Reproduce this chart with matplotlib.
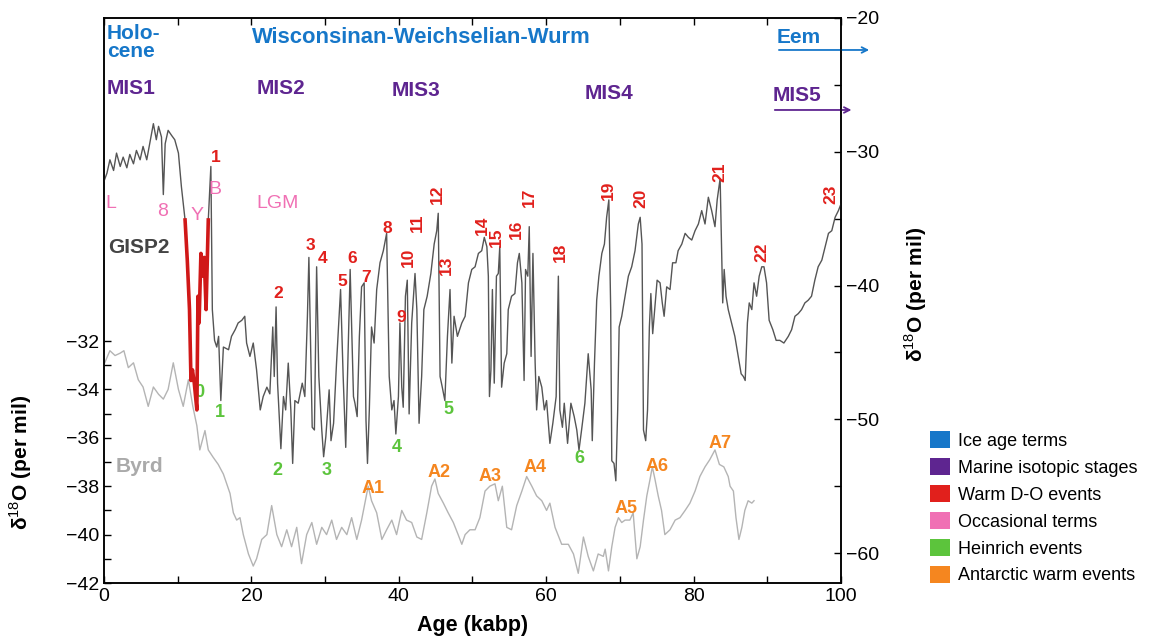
import numpy as np
import matplotlib.pyplot as plt
from matplotlib.patches import Patch

plt.rcParams['font.family'] = ['Liberation Sans', 'DejaVu Sans']
plt.rcParams['mathtext.fontset'] = 'custom'
plt.rcParams['mathtext.rm'] = 'Liberation Sans'
plt.rcParams['mathtext.bf'] = 'Liberation Sans:bold'

# GISP2 record (right axis)
gisp2_age = [0.0, 0.4, 0.8, 1.3, 1.7, 2.2, 2.6, 3.1, 3.5, 4.0, 4.4, 4.9, 5.3, 5.8, 6.2, 6.7, 7.1, 7.4, 7.8, 8.05,
             8.3, 8.7, 9.2, 9.6, 10.1, 10.5, 11.0, 11.3, 11.6, 11.8, 12.0, 12.25, 12.6, 12.75, 12.9, 13.15, 13.4,
             13.6, 13.85, 14.15, 14.5, 14.7, 15.0, 15.3, 15.55, 15.85, 16.2, 16.9, 17.3, 17.8, 18.2, 18.7, 19.1,
             19.35, 19.8, 20.25, 20.7, 21.2, 21.6, 22.1, 22.5, 22.9, 23.1, 23.35, 23.55, 24.0, 24.35, 24.65, 25.0,
             25.35, 25.6, 25.9, 26.35, 26.9, 27.25, 27.6, 27.8, 28.05, 28.25, 28.55, 28.85, 29.15, 29.55, 29.8,
             30.1, 30.55, 30.8, 31.15, 31.55, 32.1, 32.45, 32.8, 33.15, 33.4, 33.85, 34.05, 34.35, 34.65, 34.95,
             35.3, 35.55, 35.75, 36.0, 36.3, 36.65, 37.0, 37.45, 37.9, 38.35, 38.7, 39.05, 39.35, 39.6, 39.95,
             40.15, 40.4, 40.6, 40.9, 41.15, 41.4, 41.75, 42.2, 42.45, 42.75, 43.1, 43.4, 43.85, 44.35, 44.8,
             45.15, 45.35, 45.6, 45.9, 46.25, 46.6, 46.95, 47.2, 47.5, 47.95, 48.55, 49.0, 49.45, 49.9, 50.35,
             50.8, 51.25, 51.6, 51.95, 52.15, 52.3, 52.5, 52.7, 52.95, 53.25, 53.5, 53.7, 53.95, 54.3, 54.65,
             54.85, 55.3, 55.75, 56.1, 56.35, 56.7, 57.0, 57.2, 57.5, 57.7, 57.95, 58.2, 58.5, 58.7, 59.0, 59.4,
             59.75, 60.05, 60.5, 60.9, 61.35, 61.65, 61.85, 62.2, 62.45, 62.9, 63.35, 63.8, 64.15, 64.45, 64.8,
             65.25, 65.7, 66.1, 66.25, 66.55, 66.85, 67.15, 67.55, 67.9, 68.2, 68.5, 68.75, 68.9, 69.2, 69.45,
             69.7, 69.9, 70.25, 70.7, 71.15, 71.6, 72.05, 72.5, 72.75, 73.0, 73.2, 73.5, 73.75, 74.0, 74.2, 74.45,
             74.75, 75.05, 75.45, 75.75, 76.0, 76.35, 76.8, 77.15, 77.6, 77.9, 78.4, 78.85, 79.3, 79.75, 80.2,
             80.65, 81.1, 81.55, 82.0, 82.45, 82.9, 83.2, 83.6, 83.95, 84.15, 84.4, 84.7, 85.15, 85.6, 86.05,
             86.45, 86.75, 87.0, 87.3, 87.55, 87.9, 88.2, 88.55, 88.9, 89.25, 89.55, 89.9, 90.25, 90.75, 91.2,
             91.7, 92.25, 92.85, 93.3, 93.75, 94.2, 94.65, 95.1, 95.55, 96.0, 96.45, 96.9, 97.4, 97.85, 98.3,
             98.75, 99.2, 99.65, 100.0]
gisp2_d18o = [-32.2, -31.6, -30.6, -31.4, -30.1, -31.1, -30.4, -31.2, -30.2, -30.9, -29.9, -30.6, -29.6, -30.6,
              -29.4, -27.9, -29.1, -28.1, -28.9, -33.2, -29.4, -28.4, -28.8, -29.1, -30.1, -32.6, -35.1, -38.1,
              -41.8, -47.1, -46.3, -47.3, -49.3, -40.8, -42.8, -37.6, -39.3, -37.9, -41.8, -35.1, -31.1, -41.8,
              -44.1, -44.6, -43.8, -48.6, -44.6, -44.8, -43.8, -43.3, -42.8, -42.6, -42.3, -44.3, -45.3, -44.3,
              -46.3, -49.3, -48.3, -47.6, -48.1, -43.1, -46.8, -41.6, -47.3, -52.2, -48.3, -49.3, -45.8, -49.3,
              -53.3, -48.6, -48.8, -47.3, -48.3, -42.3, -37.9, -44.8, -50.6, -50.8, -38.6, -46.8, -50.8, -52.8,
              -51.3, -47.8, -51.6, -50.3, -45.8, -40.3, -46.8, -52.1, -44.3, -38.8, -48.3, -48.8, -49.8, -43.8,
              -40.1, -39.8, -50.1, -53.3, -49.3, -43.1, -44.3, -40.3, -38.3, -37.4, -36.1, -46.8, -49.3, -48.6,
              -51.1, -48.3, -42.8, -47.6, -49.1, -40.8, -39.6, -49.6, -42.8, -39.1, -41.8, -50.3, -46.8, -41.8,
              -40.8, -39.1, -36.9, -35.9, -34.6, -46.8, -47.6, -48.6, -43.8, -40.3, -45.8, -42.3, -43.8, -42.8,
              -42.3, -39.8, -38.8, -38.6, -37.6, -37.4, -36.4, -37.1, -39.3, -48.3, -46.3, -40.3, -47.3, -39.3,
              -39.1, -37.1, -47.6, -45.8, -45.1, -41.8, -40.8, -40.6, -38.3, -37.6, -39.8, -47.1, -38.8, -39.3,
              -35.6, -45.3, -37.6, -45.8, -49.3, -46.8, -47.6, -49.3, -48.6, -51.8, -50.3, -48.3, -39.3, -49.3,
              -50.6, -48.8, -51.8, -48.8, -49.8, -50.8, -52.3, -50.8, -48.8, -45.1, -47.8, -51.6, -45.8, -41.1,
              -39.3, -37.6, -36.9, -34.9, -33.6, -41.8, -53.1, -53.3, -54.6, -49.3, -43.1, -42.3, -40.8, -39.3,
              -38.6, -37.4, -35.4, -34.9, -36.9, -50.8, -51.6, -49.3, -43.1, -40.6, -43.6, -41.6, -39.6, -39.8,
              -41.3, -42.3, -40.1, -40.3, -38.3, -38.3, -37.4, -36.9, -36.1, -36.4, -36.6, -35.9, -35.4, -34.4,
              -35.4, -33.4, -34.4, -35.6, -33.6, -32.0, -41.3, -38.8, -40.8, -41.8, -42.8, -43.8, -45.3, -46.6,
              -46.8, -47.1, -42.8, -41.3, -41.8, -39.8, -40.8, -39.3, -38.6, -38.6, -39.8, -42.6, -43.3, -44.1,
              -44.1, -44.3, -43.8, -43.3, -42.3, -42.1, -41.8, -41.3, -41.1, -40.8, -39.6, -38.6, -38.1, -37.1,
              -36.1, -35.9, -34.9, -34.4, -33.9]

# Byrd record (left axis)
byrd_age = [0.1, 0.8, 1.5, 2.2, 2.7, 3.3, 4.0, 4.65, 5.3, 6.0, 6.7, 7.4, 8.05, 8.7, 9.4, 10.1, 10.75, 11.45, 12.05,
            12.6, 13.0, 13.7, 14.15, 14.8, 15.5, 16.2, 17.1, 17.55, 18.0, 18.45, 18.9, 19.6, 20.25, 20.7, 21.4,
            22.1, 22.75, 23.45, 24.1, 24.8, 25.45, 26.15, 26.8, 27.5, 28.2, 28.85, 29.55, 30.2, 30.9, 31.55,
            32.25, 32.95, 33.6, 34.3, 34.95, 35.85, 36.3, 37.0, 37.7, 38.35, 39.05, 39.7, 40.4, 41.05, 41.75,
            42.45, 43.1, 43.8, 44.45, 44.9, 45.35, 46.05, 46.7, 47.4, 48.05, 48.55, 49.0, 49.65, 50.35, 51.0,
            51.7, 52.35, 53.05, 53.5, 54.05, 54.65, 55.3, 56.0, 56.7, 57.35, 58.05, 58.7, 59.4, 60.05, 60.5,
            61.2, 62.1, 63.0, 63.7, 64.35, 65.05, 65.7, 66.4, 67.05, 67.75, 68.0, 68.45, 68.9, 69.35, 69.8,
            70.25, 70.7, 71.35, 71.8, 72.3, 72.75, 73.2, 73.65, 74.1, 74.4, 74.75, 75.2, 75.65, 76.1, 76.8,
            77.5, 78.15, 78.85, 79.5, 80.2, 80.85, 81.55, 82.2, 82.9, 83.5, 84.1, 84.7, 84.95, 85.4, 85.75,
            86.15, 86.55, 86.95, 87.4, 87.9, 88.2]
byrd_d18o = [-32.9, -32.4, -32.6, -32.5, -32.4, -33.1, -32.9, -33.6, -33.9, -34.7, -33.9, -34.2, -34.4, -34.0,
             -32.9, -34.0, -34.7, -33.6, -34.7, -35.5, -36.5, -35.7, -36.5, -36.8, -37.1, -37.5, -38.3, -39.1,
             -39.4, -39.3, -40.0, -40.8, -41.3, -41.0, -40.2, -40.0, -38.8, -40.0, -40.5, -39.8, -40.5, -39.7,
             -41.2, -40.0, -39.5, -40.4, -39.7, -40.0, -39.4, -40.2, -39.7, -40.0, -39.3, -40.2, -39.4, -38.0,
             -38.6, -39.1, -40.2, -39.8, -39.4, -40.0, -39.0, -39.4, -39.5, -40.1, -40.2, -39.1, -38.0, -37.7,
             -38.3, -38.7, -39.1, -39.5, -40.0, -40.4, -40.0, -39.8, -39.8, -39.3, -38.2, -38.0, -37.9, -38.6,
             -38.0, -39.7, -39.8, -38.8, -38.2, -37.6, -38.0, -38.4, -38.6, -39.0, -38.7, -39.7, -40.4, -40.4,
             -40.8, -41.6, -40.1, -40.9, -41.5, -40.8, -40.9, -40.6, -41.5, -40.5, -39.7, -39.3, -39.5, -39.4,
             -39.4, -39.1, -41.0, -40.5, -39.4, -38.4, -37.7, -37.2, -37.7, -38.4, -39.0, -40.0, -39.8, -39.4,
             -39.3, -39.0, -38.7, -38.2, -37.6, -37.2, -36.9, -36.5, -37.1, -37.2, -37.6, -38.0, -38.2, -39.3,
             -40.2, -39.7, -39.0, -38.6, -38.7, -38.6]

# red stretch of GISP2 (ages, kabp)
red_start, red_end = 11.0, 14.15

# warm D-O events
do_labels = [str(i) for i in range(1, 24)]
do_age = [15.2, 23.6, 27.95, 29.6, 32.3, 33.65, 35.55, 38.5, 40.3, 41.25, 42.5, 45.3, 46.5, 51.4, 53.3, 56.0,
          57.65, 61.9, 68.5, 72.9, 83.6, 89.3, 98.6]
do_val = [-30.4, -40.6, -37.0, -38.0, -39.7, -38.0, -39.4, -35.7, -42.4, -37.9, -35.3, -33.2, -38.5, -35.5,
          -36.4, -35.8, -33.4, -37.5, -32.9, -33.5, -31.5, -37.5, -33.2]

# Heinrich events
h_labels = ['0', '1', '2', '3', '4', '5', '6']
h_age = [13.0, 15.75, 23.5, 30.25, 39.75, 46.7, 64.45]
h_val = [-48.0, -49.5, -53.8, -53.8, -52.1, -49.3, -52.9]

# Antarctic warm events
a_labels = ['A1', 'A2', 'A3', 'A4', 'A5', 'A6', 'A7']
a_age = [36.5, 45.45, 52.4, 58.5, 70.8, 75.0, 83.6]
a_val = [-55.2, -54.0, -54.3, -53.6, -56.7, -53.5, -51.8]

# occasional terms
occ_labels = ['L', '8', 'Y', 'B', 'LGM']
occ_age = [0.95, 8.0, 12.6, 15.05, 23.6]
occ_val = [-33.9, -34.5, -34.8, -32.8, -33.9]

legend_labels = ['Ice age terms', 'Marine isotopic stages', 'Warm D-O events',
                 'Occasional terms', 'Heinrich events', 'Antarctic warm events']

BLUE = '#1677c9'
PURPLE = '#5e2590'
RED = '#e1201c'
PINK = '#f070b4'
GREEN = '#5cc43c'
ORANGE = '#f5861f'

fig = plt.figure(figsize=(11.55, 6.38), dpi=100)
ax = fig.add_axes([104 / 1155, 1 - 583 / 638, 737 / 1155, 565 / 638])
ax2 = ax.twinx()

ax.plot(byrd_age, byrd_d18o, color='#b4b4b4', lw=1.0)
ax.set_xlim(0, 100)
ax.set_ylim(-42, -18.65)
ax.set_yticks(np.arange(-42, -31, 2))
ax.set_yticks(np.arange(-41, -32, 2), minor=True)
ax.set_xticks(np.arange(0, 101, 20))
ax.set_xticks(np.arange(10, 100, 20), minor=True)
ax.tick_params(which='both', direction='in', length=5, width=1, top=True, labelsize=14)
ax.set_xlabel('Age (kabp)', fontsize=15.5, fontweight='bold', labelpad=7)
ax.set_ylabel('δ$^{18}$O (per mil)', fontsize=15, fontweight='bold')
ax.yaxis.set_label_coords(-0.095, 0.214)

g_age = np.array(gisp2_age)
g_val = np.array(gisp2_d18o)
ax2.plot(g_age, g_val, color='#555555', lw=1.0, zorder=2)
red = (g_age >= red_start) & (g_age <= red_end)
ax2.plot(g_age[red], g_val[red], color='#d01818', lw=2.6, zorder=3)
ax2.set_ylim(-62.24, -20)
ax2.set_yticks(np.arange(-60, -19, 10))
ax2.set_yticks(np.arange(-55, -24, 10), minor=True)
ax2.tick_params(which='both', direction='in', length=5, width=1, labelsize=14)
ax2.set_ylabel('δ$^{18}$O (per mil)', fontsize=15, fontweight='bold', rotation=90)
ax2.yaxis.set_label_coords(1.083, 0.51)

for sp in list(ax.spines.values()) + list(ax2.spines.values()):
    sp.set_linewidth(1.1)

for lab, x, y in zip(do_labels, do_age, do_val):
    rot = 90 if int(lab) >= 10 else 0
    ax2.text(x, y, lab, color=RED, fontsize=12.5, fontweight='bold', rotation=rot,
             ha='center', va='center', zorder=4)
for lab, x, y in zip(h_labels, h_age, h_val):
    ax2.text(x, y, lab, color=GREEN, fontsize=13, fontweight='bold', ha='center', va='center', zorder=1)
for lab, x, y in zip(a_labels, a_age, a_val):
    ax2.text(x, y, lab, color=ORANGE, fontsize=13, fontweight='bold', ha='center', va='center', zorder=4)
for lab, x, y in zip(occ_labels, occ_age, occ_val):
    ax2.text(x, y, lab, color=PINK, fontsize=14, ha='center', va='center', zorder=4)

tr = ax.transAxes
ax.text(0.004, 0.972, 'Holo-', color=BLUE, fontsize=15, fontweight='bold', transform=tr, va='center')
ax.text(0.004, 0.940, 'cene', color=BLUE, fontsize=15, fontweight='bold', transform=tr, va='center')
ax.text(0.2008, 0.965, 'Wisconsinan-Weichselian-Wurm', color=BLUE, fontsize=15.8, fontweight='bold',
        transform=tr, va='center')
ax.text(0.912, 0.966, 'Eem', color=BLUE, fontsize=15, fontweight='bold', transform=tr, va='center')
ax.annotate('', xy=(1.042, 0.9434), xytext=(0.912, 0.9434), xycoords=tr, textcoords=tr,
            arrowprops=dict(arrowstyle='->', color=BLUE, lw=1.3), annotation_clip=False)
for lab, fx, fy in [('MIS1', 0.004, 0.876), ('MIS2', 0.2076, 0.876), ('MIS3', 0.3908, 0.871),
                    ('MIS4', 0.6526, 0.867), ('MIS5', 0.9077, 0.862)]:
    ax.text(fx, fy, lab, color=PURPLE, fontsize=15, fontweight='bold', transform=tr, va='center')
ax.annotate('', xy=(1.018, 0.8372), xytext=(0.9064, 0.8372), xycoords=tr, textcoords=tr,
            arrowprops=dict(arrowstyle='->', color=PURPLE, lw=1.3), annotation_clip=False)
ax.text(0.0054, 0.593, 'GISP2', color='#444444', fontsize=15, fontweight='bold', transform=tr, va='center')
ax.text(0.0163, 0.207, 'Byrd', color='#aaaaaa', fontsize=15, fontweight='bold', transform=tr, va='center')

handles = [Patch(facecolor=c, edgecolor='none') for c in [BLUE, PURPLE, RED, PINK, GREEN, ORANGE]]
fig.legend(handles, legend_labels, loc='upper left', bbox_to_anchor=(930 / 1155, 1 - 431 / 638),
           frameon=False, fontsize=13, handlelength=1.1, handleheight=1.1, handletextpad=0.45,
           labelspacing=0.45, borderpad=0, borderaxespad=0)

fig.savefig('out.png', dpi=100, facecolor='white')
